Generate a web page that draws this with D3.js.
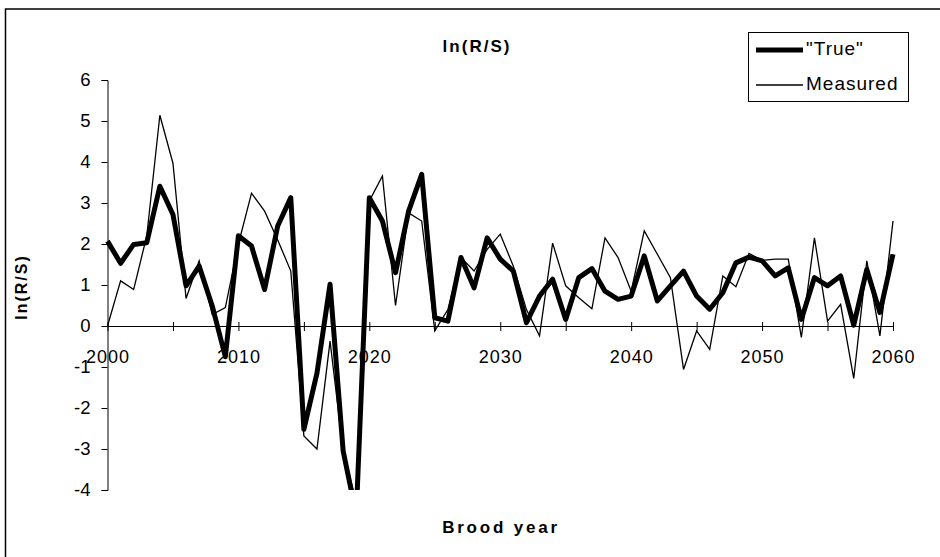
<!DOCTYPE html>
<html>
<head>
<meta charset="utf-8">
<script src="https://cdn.jsdelivr.net/npm/d3@7"></script>
<style>
  body { margin: 0; background: #fff; }
  svg { display: block; font-family: "Liberation Sans", Arial, sans-serif; }
</style>
</head>
<body>
<svg width="940" height="557"></svg>
<script>
// brood years 2000..2060
const years = d3.range(2000, 2061)

const trueVals = [
  2.07, 1.53, 1.99, 2.03, 3.41, 2.72, 0.98, 1.46, 0.49, -0.75,
  2.2, 1.95, 0.89, 2.44, 3.13, -2.52, -1.15, 1.02, -3.05, -4.6,
  3.13, 2.56, 1.3, 2.8, 3.7, 0.2, 0.12, 1.67, 0.93, 2.15,
  1.63, 1.34, 0.08, 0.73, 1.14, 0.16, 1.18, 1.4, 0.85, 0.65,
  0.73, 1.71, 0.61, 0.98, 1.34, 0.73, 0.41, 0.81, 1.54, 1.68,
  1.59, 1.22, 1.42, 0.16, 1.18, 0.98, 1.22, 0.02, 1.38, 0.33,
  1.75
]

const measuredVals = [
  0, 1.1, 0.89, 2.2, 5.14, 3.97, 0.67, 1.59, 0.28, 0.45,
  2.0, 3.24, 2.8, 2.1, 1.34, -2.68, -3.0, -0.37, -3.05, -4.3,
  3.05, 3.66, 0.5, 2.76, 2.56, -0.12, 0.4, 1.67, 1.34, 1.87,
  2.24, 1.46, 0.4, -0.24, 2.02, 0.98, 0.69, 0.42, 2.15, 1.67,
  0.85, 2.32, 1.75, 1.18, -1.06, -0.12, -0.57, 1.22, 0.96, 1.77,
  1.6, 1.63, 1.63, -0.28, 2.15, 0.12, 0.53, -1.28, 1.59, -0.24,
  2.56
]

const yTicks = [-4, -3, -2, -1, 0, 1, 2, 3, 4, 5, 6]
const xLabels = [2000, 2010, 2020, 2030, 2040, 2050, 2060]
const xTicks = d3.range(2000, 2061, 5)

const svg = d3.select("svg")

// outer chart border
svg.append("rect")
  .attr("x", 5.5).attr("y", 9)
  .attr("width", 950).attr("height", 560)
  .attr("fill", "none").attr("stroke", "#000").attr("stroke-width", 1.5)

let plotLeft = 107.5, plotRight = 893, plotTop = 80, plotBottom = 490

let x = d3.scaleLinear().domain([2000, 2060]).range([plotLeft, plotRight])
let y = d3.scaleLinear().domain([-4, 6]).range([plotBottom, plotTop])

svg.append("defs").append("clipPath").attr("id", "plot")
  .append("rect")
  .attr("x", plotLeft - 5).attr("y", plotTop)
  .attr("width", plotRight - plotLeft + 10).attr("height", plotBottom - plotTop)

// y axis
let yAxis = svg.append("g")
  .attr("transform", "translate(" + plotLeft + ",0)")
  .call(d3.axisLeft(y).tickValues(yTicks).tickSize(6).tickPadding(11)
    .tickFormat(d => String(d)))
yAxis.select(".domain").attr("stroke", "#000").attr("stroke-width", 1)
yAxis.selectAll("text").attr("font-size", 18.5).attr("fill", "#000")
  .attr("font-family", "Liberation Sans, Arial, sans-serif")

// x axis on the zero line, ticks crossing it
let xAxis = svg.append("g")
  .attr("transform", "translate(0," + y(0) + ")")
  .call(d3.axisBottom(x).tickValues(xTicks).tickSizeInner(4).tickSizeOuter(0)
    .tickFormat(d => xLabels.includes(d) ? d : ""))
xAxis.select(".domain").attr("stroke", "#000").attr("stroke-width", 1)
xAxis.selectAll(".tick line").attr("y1", -4).attr("y2", 5)
xAxis.selectAll("text").attr("font-size", 18).attr("fill", "#000")
  .attr("letter-spacing", 1)
  .attr("font-family", "Liberation Sans, Arial, sans-serif")
  .attr("y", 24)

let line = d3.line()
  .x((d, i) => x(years[i]))
  .y(d => y(d))

let plot = svg.append("g").attr("clip-path", "url(#plot)")

plot.append("path")
  .datum(measuredVals)
  .attr("fill", "none")
  .attr("stroke", "#000")
  .attr("stroke-width", 1.3)
  .attr("stroke-linejoin", "miter")
  .attr("d", line)

plot.append("path")
  .datum(trueVals)
  .attr("fill", "none")
  .attr("stroke", "#000")
  .attr("stroke-width", 5)
  .attr("stroke-linejoin", "round")
  .attr("d", line)

// title
svg.append("text")
  .attr("x", 477).attr("y", 52)
  .attr("text-anchor", "middle")
  .attr("font-size", 17).attr("font-weight", "bold")
  .attr("letter-spacing", 2)
  .text("ln(R/S)")

// axis titles
svg.append("text")
  .attr("x", 501).attr("y", 533)
  .attr("text-anchor", "middle")
  .attr("font-size", 17).attr("font-weight", "bold")
  .attr("letter-spacing", 2.8)
  .text("Brood year")

svg.append("text")
  .attr("transform", "translate(27,287) rotate(-90)")
  .attr("text-anchor", "middle")
  .attr("font-size", 16).attr("font-weight", "bold")
  .attr("letter-spacing", 2)
  .text("ln(R/S)")

// legend
svg.append("rect")
  .attr("x", 748.5).attr("y", 32.5)
  .attr("width", 160).attr("height", 69)
  .attr("fill", "#fff").attr("stroke", "#000").attr("stroke-width", 1)

let legendItems = [
  { name: "\"True\"", width: 5, ly: 50 },
  { name: "Measured", width: 1.3, ly: 85 }
]
legendItems.forEach(d => {
  svg.append("line")
    .attr("x1", 756).attr("x2", 803)
    .attr("y1", d.ly).attr("y2", d.ly)
    .attr("stroke", "#000").attr("stroke-width", d.width)
  svg.append("text")
    .attr("x", 806).attr("y", d.ly + 5)
    .attr("font-size", 19)
    .attr("letter-spacing", 1)
    .text(d.name)
})
</script>
</body>
</html>
